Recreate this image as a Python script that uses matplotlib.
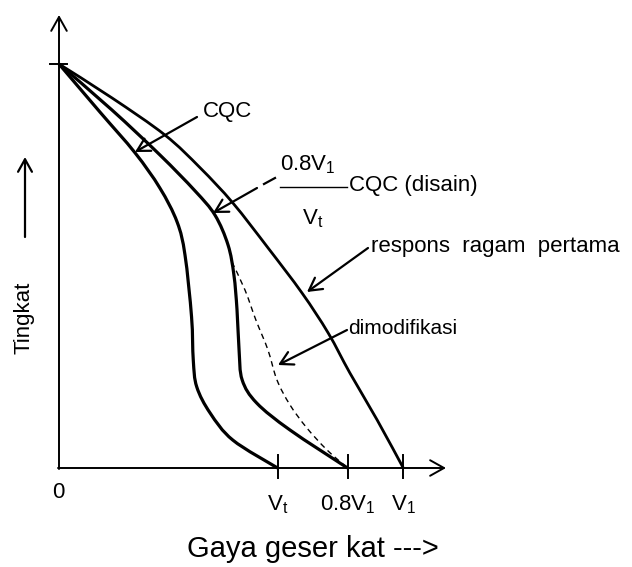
import matplotlib
matplotlib.use("Agg")
import matplotlib.pyplot as plt
from matplotlib.path import Path
from matplotlib.patches import PathPatch

plt.rcParams['font.family'] = ['Liberation Sans', 'DejaVu Sans']
plt.rcParams['mathtext.fontset'] = 'custom'
plt.rcParams['mathtext.rm'] = 'Liberation Sans'
plt.rcParams['mathtext.it'] = 'Liberation Sans'

# ---- data (shear in units of V1, height in units of top floor) ----
cqc_x = [0, 0.119, 0.221, 0.293, 0.343, 0.366, 0.385, 0.390, 0.400, 0.439, 0.505, 0.635]
cqc_y = [1, 0.881, 0.780, 0.693, 0.609, 0.527, 0.374, 0.267, 0.201, 0.136, 0.069, 0]

design_x = [0, 0.154, 0.293, 0.395, 0.453, 0.491, 0.508, 0.517, 0.523, 0.532, 0.574, 0.671, 0.838]
design_y = [1, 0.886, 0.775, 0.686, 0.626, 0.552, 0.478, 0.392, 0.292, 0.218, 0.161, 0.094, 0]

mode1_x = [0, 0.154, 0.308, 0.410, 0.505, 0.607, 0.706, 0.782, 0.845, 0.924, 1.0]
mode1_y = [1, 0.916, 0.824, 0.743, 0.656, 0.545, 0.433, 0.334, 0.235, 0.119, 0]

mod_x = [0.502, 0.540, 0.572, 0.607, 0.633, 0.671, 0.720, 0.778, 0.838]
mod_y = [0.510, 0.441, 0.366, 0.292, 0.218, 0.156, 0.099, 0.045, 0]

xtick_pos = [0.635, 0.838, 1.0]
xtick_labels = [r'$\mathregular{V_t}$', r'$\mathregular{0.8V_1}$', r'$\mathregular{V_1}$']

# ---- layout helpers (pixel -> data) ----
W, H = 632, 567
X0, Y0 = 59.0, 468.0
SX = 403.3 - 59.0
SY = 468.0 - 64.0
def P(px, py):
    return ((px - X0) / SX, (Y0 - py) / SY)

def smooth_path(xs, ys):
    """Catmull-Rom curve through the points, drawn as cubic Bezier segments."""
    pts = list(zip(xs, ys))
    n = len(pts)
    verts = [pts[0]]
    codes = [Path.MOVETO]
    for i in range(n - 1):
        p0 = pts[i - 1] if i > 0 else pts[i]
        p1 = pts[i]
        p2 = pts[i + 1]
        p3 = pts[i + 2] if i + 2 < n else pts[i + 1]
        c1 = (p1[0] + (p2[0] - p0[0]) / 6, p1[1] + (p2[1] - p0[1]) / 6)
        c2 = (p2[0] - (p3[0] - p1[0]) / 6, p2[1] - (p3[1] - p1[1]) / 6)
        verts += [c1, c2, p2]
        codes += [Path.CURVE4] * 3
    return Path(verts, codes)

fig = plt.figure(figsize=(6.32, 5.67), dpi=100)
ax = fig.add_axes([0, 0, 1, 1])
ax.set_xlim(-X0 / SX, (W - X0) / SX)
ax.set_ylim((Y0 - H) / SY, Y0 / SY)
ax.axis('off')

FS = 15
arrow_axis = dict(arrowstyle='->,head_length=0.5,head_width=0.28', lw=1.4, color='black',
                  mutation_scale=20, shrinkA=0, shrinkB=0)
arrow_lbl = dict(arrowstyle='->,head_length=0.45,head_width=0.25', lw=1.6, color='black',
                 mutation_scale=20, shrinkA=0, shrinkB=0)

# axes
ax.annotate('', xy=P(59, 15), xytext=P(59, 469), arrowprops=arrow_axis)
ax.annotate('', xy=P(446, 468), xytext=P(58, 468), arrowprops=arrow_axis)
ax.plot([P(50, 0)[0], P(67, 0)[0]], [1, 1], color='black', lw=1.4)
for xp in xtick_pos:
    ax.plot([xp, xp], [P(0, 455)[1], P(0, 478)[1]], color='black', lw=1.4)
for xp, lab in zip(xtick_pos, xtick_labels):
    ax.text(xp, P(0, 510)[1], lab, ha='center', va='baseline', fontsize=FS + 1)
ax.text(*P(58, 498), '0', ha='center', va='baseline', fontsize=FS + 1)

# curves
ax.add_patch(PathPatch(smooth_path(cqc_x, cqc_y), fill=False, lw=2.3, ec='black'))
ax.add_patch(PathPatch(smooth_path(design_x, design_y), fill=False, lw=2.3, ec='black'))
ax.add_patch(PathPatch(smooth_path(mode1_x, mode1_y), fill=False, lw=2.0, ec='black'))
ax.add_patch(PathPatch(smooth_path(mod_x, mod_y), fill=False, lw=1.0, ec='black',
                       ls=(0, (4, 3))))

# labels with arrows
ax.text(*P(203, 112), 'CQC', ha='left', va='center', fontsize=FS + 1)
ax.annotate('', xy=P(135, 152), xytext=P(197, 117), arrowprops=arrow_lbl)

ax.text(*P(280, 170), r'$\mathregular{0.8V_1}$', ha='left', va='baseline', fontsize=FS + 1)
ax.plot([P(280, 0)[0], P(347, 0)[0]], [P(0, 187)[1]] * 2, color='black', lw=1.0)
ax.text(*P(302, 224), r'$\mathregular{V_t}$', ha='left', va='baseline', fontsize=FS + 1)
ax.text(*P(349, 186), 'CQC (disain)', ha='left', va='center', fontsize=FS + 1)
# broken leader: short dash, small gap, then the arrow
ax.plot([P(264, 0)[0], P(275, 0)[0]], [P(0, 184)[1], P(0, 178)[1]], color='black', lw=1.6)
ax.annotate('', xy=P(213, 213), xytext=P(257, 188), arrowprops=arrow_lbl)

ax.text(*P(371, 247), 'respons  ragam  pertama', ha='left', va='center', fontsize=FS + 1)
ax.annotate('', xy=P(307, 292), xytext=P(368, 248), arrowprops=arrow_lbl)

ax.text(*P(348, 328), 'dimodifikasi', ha='left', va='center', fontsize=FS)
ax.annotate('', xy=P(278, 365), xytext=P(347, 330), arrowprops=arrow_lbl)

# axis titles
ax.text(*P(24, 318), 'Tingkat', rotation=90, ha='center', va='center', fontsize=FS + 1)
ax.annotate('', xy=P(25, 157), xytext=P(25, 237), arrowprops=arrow_lbl)
ax.text(*P(313, 549), 'Gaya geser kat --->', ha='center', va='center', fontsize=FS + 6)

fig.savefig('out.png', dpi=100)
